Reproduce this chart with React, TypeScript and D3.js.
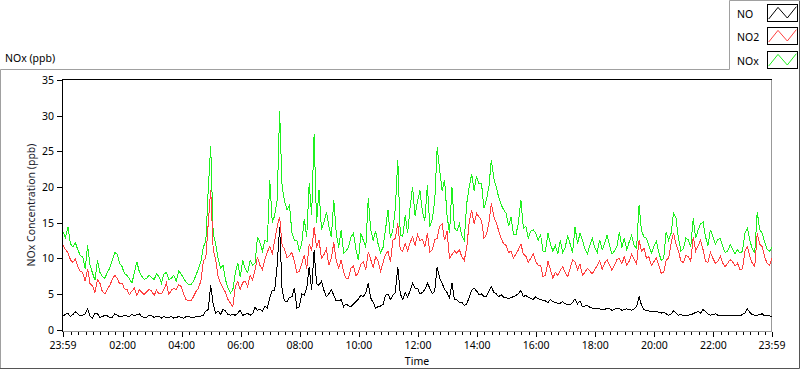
import React, { useEffect, useRef } from "react";
import * as d3 from "d3";

// Readings every 10 minutes from 23:59 (145 points), ppb
const noOnTen = [
  1.9, 2.3, 2.1, 2.2, 2.0, 2.9, 1.6, 2.2, 1.8, 1.9,
  1.7, 2.0, 1.8, 1.9, 2.2, 2.1, 1.8, 1.7, 1.9, 1.8,
  1.6, 1.7, 1.8, 1.7, 1.7, 1.8, 1.7, 1.8, 1.9, 2.6,
  6.2, 2.3, 2.1, 2.6, 2.0, 2.0, 2.7, 2.1, 2.0, 3.1,
  2.8, 3.3, 4.4, 5.5, 14.4, 4.0, 4.5, 5.8, 3.2, 4.8,
  8.8, 11.1, 6.2, 5.5, 5.0, 4.8, 4.0, 3.2, 3.3, 3.6,
  4.3, 4.6, 6.5, 3.8, 3.2, 3.5, 5.0, 4.8, 8.8, 4.2,
  4.5, 6.5, 5.8, 5.2, 6.5, 5.0, 8.8, 6.5, 5.2, 6.5,
  4.2, 3.8, 3.6, 5.5, 5.4, 5.0, 4.6, 6.0, 5.0, 4.9,
  4.5, 4.5, 4.8, 5.5, 4.8, 4.4, 4.6, 4.2, 4.0, 4.2,
  3.8, 3.7, 3.6, 3.5, 4.3, 4.0, 3.3, 3.1, 2.9, 2.9,
  2.8, 2.9, 2.8, 2.9, 2.8, 2.8, 2.9, 4.6, 2.8, 2.6,
  2.5, 2.4, 2.4, 2.0, 2.6, 2.0, 1.9, 2.0, 2.2, 2.5,
  2.8, 2.2, 2.1, 2.0, 1.9, 2.0, 1.9, 2.0, 2.1, 2.9,
  2.1, 2.0, 2.2, 1.9, 1.8,
];
// Readings 5 minutes after each of the above (144 points)
const noMid = [
  2.1, 1.8, 2.5, 1.9, 2.2, 1.9, 2.3, 1.7, 2.0, 1.7,
  2.2, 1.8, 2.0, 1.8, 1.9, 2.2, 1.7, 2.0, 1.7, 1.9,
  1.8, 1.7, 1.6, 1.8, 1.6, 1.8, 1.7, 1.8, 2.0, 2.8,
  3.6, 2.6, 2.8, 2.1, 2.1, 2.3, 2.0, 2.3, 2.2, 2.7,
  2.6, 3.0, 5.5, 9.0, 5.5, 3.9, 4.6, 3.0, 5.0, 5.8,
  5.5, 6.4, 6.8, 4.6, 5.6, 4.0, 4.2, 3.6, 3.2, 3.9,
  4.8, 5.2, 4.4, 3.0, 3.3, 4.8, 4.2, 5.2, 5.0, 5.2,
  5.5, 5.8, 5.0, 5.6, 5.8, 5.4, 7.2, 5.6, 4.4, 4.2,
  3.8, 3.4, 4.5, 5.8, 4.9, 4.6, 5.4, 5.2, 4.6, 4.5,
  4.3, 4.6, 5.0, 4.6, 4.5, 4.2, 4.3, 4.1, 3.8, 3.9,
  3.7, 3.9, 3.5, 3.8, 3.6, 3.2, 3.4, 3.0, 3.0, 2.8,
  3.0, 2.7, 3.0, 2.7, 2.9, 2.7, 3.2, 3.4, 2.6, 2.5,
  2.6, 2.3, 2.2, 2.2, 2.3, 2.1, 2.0, 2.1, 2.4, 2.3,
  2.5, 2.0, 2.2, 1.9, 2.0, 1.9, 2.0, 1.9, 2.3, 2.4,
  2.0, 2.1, 1.9, 1.9,
];

const no2OnTen = [
  11.8, 10.8, 9.4, 8.8, 8.0, 8.5, 6.1, 7.0, 5.3, 5.6,
  7.0, 7.2, 6.5, 5.6, 5.4, 4.8, 5.2, 5.3, 5.4, 5.5,
  5.0, 6.5, 5.5, 5.6, 6.0, 4.2, 4.0, 5.3, 6.8, 10.0,
  19.6, 9.8, 6.5, 5.2, 3.7, 6.0, 5.6, 6.8, 7.6, 8.3,
  9.0, 9.8, 11.6, 12.5, 15.8, 11.3, 10.4, 9.5, 8.2, 10.5,
  12.0, 14.4, 12.5, 10.5, 9.0, 12.2, 8.6, 8.0, 7.2, 8.9,
  8.0, 9.5, 10.9, 8.7, 9.6, 9.4, 11.0, 12.5, 14.9, 11.0,
  11.0, 13.0, 13.3, 12.6, 13.5, 11.2, 12.8, 14.8, 13.8, 10.5,
  10.7, 10.2, 11.5, 16.8, 16.3, 15.3, 13.3, 17.7, 15.0, 12.8,
  11.8, 11.0, 10.6, 12.0, 10.3, 10.0, 9.6, 9.0, 7.6, 8.4,
  8.0, 8.3, 8.0, 8.6, 9.5, 9.2, 8.0, 8.2, 8.4, 9.7,
  9.3, 9.0, 9.0, 10.0, 10.2, 9.6, 9.8, 12.5, 11.4, 10.2,
  9.5, 9.0, 8.0, 10.0, 13.5, 11.0, 9.4, 10.2, 13.0, 11.8,
  11.2, 9.4, 10.0, 9.6, 9.3, 9.3, 9.5, 9.3, 8.5, 11.6,
  9.3, 13.5, 11.6, 9.3, 10.0,
];
const no2Mid = [
  11.2, 9.8, 9.9, 8.2, 6.8, 6.4, 5.2, 6.5, 5.0, 6.2,
  7.6, 6.4, 5.7, 4.9, 5.8, 5.6, 4.9, 5.6, 4.8, 5.0,
  5.6, 4.9, 5.8, 6.3, 5.0, 4.0, 4.6, 5.8, 9.6, 14.9,
  11.3, 7.4, 5.8, 4.2, 3.2, 6.7, 6.6, 6.0, 7.0, 10.2,
  8.4, 10.9, 10.6, 14.4, 11.8, 10.0, 10.8, 8.0, 9.2, 8.5,
  11.0, 11.5, 10.0, 11.3, 10.0, 9.6, 9.8, 7.2, 8.6, 7.5,
  9.2, 8.4, 9.8, 10.2, 8.2, 10.5, 9.5, 12.8, 11.2, 12.0,
  12.2, 11.8, 12.5, 11.6, 10.9, 12.6, 14.5, 12.5, 10.0, 11.0,
  11.2, 9.7, 15.0, 14.8, 15.8, 12.8, 15.0, 15.8, 13.8, 12.0,
  10.8, 10.0, 11.2, 10.6, 9.4, 10.6, 9.0, 7.4, 9.6, 7.2,
  7.6, 8.8, 7.4, 9.8, 8.4, 7.6, 8.6, 7.8, 9.0, 8.4,
  9.8, 8.3, 9.8, 9.2, 9.0, 10.6, 9.2, 11.0, 10.0, 9.0,
  10.0, 7.9, 9.7, 12.1, 12.0, 9.6, 10.4, 9.6, 11.0, 12.5,
  9.6, 10.8, 9.3, 10.3, 8.8, 9.8, 8.9, 8.4, 11.0, 10.2,
  8.8, 12.0, 10.2, 9.0,
];

const noxOnTen = [
  13.7, 14.4, 11.6, 11.2, 10.2, 11.8, 7.9, 9.7, 7.4, 8.0,
  9.7, 10.6, 8.8, 7.6, 6.5, 9.5, 7.5, 7.2, 7.3, 7.8,
  6.5, 8.0, 7.2, 6.8, 7.8, 6.6, 6.3, 7.6, 9.5, 12.3,
  25.8, 12.0, 8.6, 7.0, 5.1, 8.0, 7.4, 8.5, 9.7, 9.3,
  12.2, 12.5, 21.0, 16.0, 30.6, 18.0, 17.5, 12.5, 11.0, 15.5,
  20.5, 27.4, 19.6, 15.0, 14.5, 18.2, 11.5, 10.7, 11.6, 13.5,
  9.7, 12.5, 18.4, 12.5, 12.0, 11.5, 16.8, 14.0, 23.8, 13.0,
  13.5, 20.0, 18.0, 16.5, 20.3, 15.5, 25.6, 19.5, 16.0, 20.0,
  13.8, 13.2, 17.7, 21.8, 21.5, 20.5, 18.2, 23.8, 20.0, 17.5,
  16.3, 15.8, 13.3, 18.2, 14.5, 13.8, 13.5, 13.3, 11.0, 12.0,
  11.8, 12.5, 11.5, 12.0, 14.4, 13.5, 11.3, 11.8, 11.5, 12.6,
  12.0, 11.8, 11.0, 13.7, 12.8, 12.3, 11.8, 17.5, 13.0, 11.8,
  11.6, 10.8, 10.0, 12.5, 16.3, 12.8, 11.3, 12.6, 15.6, 14.0,
  15.1, 11.8, 13.0, 12.6, 11.6, 11.0, 11.3, 11.2, 11.0, 14.2,
  11.3, 16.5, 13.5, 11.3, 11.5,
];
const noxMid = [
  12.9, 12.0, 12.2, 10.4, 8.5, 9.0, 6.9, 8.0, 7.2, 8.6,
  10.8, 9.3, 7.8, 7.1, 8.0, 8.1, 7.0, 7.6, 7.0, 7.4,
  7.8, 7.0, 7.6, 8.2, 7.2, 6.3, 6.8, 8.5, 11.6, 19.6,
  13.5, 10.0, 9.0, 5.8, 5.6, 9.3, 9.7, 8.0, 9.0, 13.0,
  11.0, 12.3, 15.0, 18.2, 20.0, 16.8, 13.5, 12.5, 12.1, 13.0,
  16.0, 15.0, 14.0, 16.5, 13.0, 13.5, 14.0, 11.0, 13.0, 11.2,
  13.5, 11.5, 14.0, 13.8, 10.8, 14.0, 12.8, 17.0, 13.3, 16.0,
  17.2, 16.0, 19.5, 15.3, 14.4, 18.0, 22.4, 21.0, 13.5, 14.3,
  14.8, 12.5, 20.0, 19.5, 20.4, 17.0, 20.0, 21.2, 18.5, 16.8,
  14.5, 13.3, 15.0, 14.2, 12.8, 14.0, 12.5, 11.0, 13.5, 11.0,
  10.6, 10.8, 13.2, 10.8, 12.0, 12.5, 10.6, 12.8, 10.8, 11.2,
  13.3, 10.6, 11.6, 11.5, 11.2, 13.2, 11.4, 13.8, 12.8, 10.7,
  12.4, 9.7, 13.7, 13.5, 15.6, 11.0, 12.8, 11.6, 12.8, 14.8,
  13.0, 14.0, 12.0, 12.8, 10.8, 11.9, 10.6, 10.7, 13.5, 12.5,
  10.8, 14.0, 12.3, 11.0,
];

const seriesNames = ["NO", "NO2", "NOx"];
const seriesColors = ["#000000", "#ff4040", "#1ff01f"];
const yTicks = [0, 5, 10, 15, 20, 25, 30, 35];
const edgeLabel = "23:59";
const stepMinutes = 5;

const W = 800;
const H = 369;
const FONT = "'Noto Sans', 'Open Sans', sans-serif";

// merge the on-the-ten readings with the readings taken in between
function merge(onTen: number[], mid: number[]) {
  const out: number[] = [];
  onTen.forEach((v, i) => {
    out.push(v);
    if (i < mid.length) out.push(mid[i]);
  });
  return out;
}

function NoxChart() {
  const ref = useRef<SVGSVGElement>(null);

  useEffect(() => {
    const svg = d3.select(ref.current);
    svg.selectAll("*").remove();

    const series = [merge(noOnTen, noMid), merge(no2OnTen, no2Mid), merge(noxOnTen, noxMid)];
    const start = new Date(2020, 0, 1, 23, 59);
    const end = d3.timeMinute.offset(start, 24 * 60);
    const times = series[0].map((_, i) => d3.timeMinute.offset(start, i * stepMinutes));

    const x = d3.scaleTime().domain([start, end]).range([63, 772]);
    const y = d3.scaleLinear().domain([0, 35]).range([329.5, 80]);

    // outer panel border (with legend box on top right)
    svg.append("path")
      .attr("d", "M0.5,368 V69.5 H729.5 V0.5 H799")
      .attr("fill", "none").attr("stroke", "#a0a0a0");
    svg.append("path")
      .attr("d", "M799.5,0.5 V368.5 H0")
      .attr("fill", "none").attr("stroke", "#555");

    svg.append("text")
      .attr("x", 5).attr("y", 62)
      .attr("font-family", FONT).attr("font-size", 10.5)
      .text("NOx (ppb)");

    // plot frame
    svg.append("rect")
      .attr("x", 63).attr("y", 80).attr("width", 709).attr("height", 251)
      .attr("fill", "#fff");
    svg.append("path")
      .attr("d", "M771.5,80 V331.5 H63")
      .attr("fill", "none").attr("stroke", "#999")
      .attr("shape-rendering", "crispEdges");
    svg.append("path")
      .attr("d", "M62.5,332 V79.5 H772")
      .attr("fill", "none").attr("stroke", "#000")
      .attr("shape-rendering", "crispEdges");

    // y axis
    const yg = svg.append("g").attr("font-family", FONT).attr("font-size", 10.5);
    yTicks.forEach((t) => {
      const py = Math.round(y(t)) + 0.5;
      yg.append("line").attr("x1", 57).attr("x2", 63).attr("y1", py).attr("y2", py)
        .attr("stroke", "#000").attr("shape-rendering", "crispEdges");
      yg.append("text").attr("x", 54).attr("y", py + 3.8)
        .attr("text-anchor", "end").text(String(t));
    });
    svg.append("text")
      .attr("transform", `translate(35,205) rotate(-90)`)
      .attr("text-anchor", "middle")
      .attr("font-family", FONT).attr("font-size", 10.5)
      .attr("fill", "#1a1a2a")
      .text("NOx Concentration (ppb)");

    // x axis ticks
    const xg = svg.append("g").attr("font-family", FONT).attr("font-size", 10.5);
    d3.timeMinute.every(15)!.range(start, end).forEach((t) => {
      const px = Math.round(x(t)) + 0.5;
      xg.append("line").attr("x1", px).attr("x2", px).attr("y1", 332).attr("y2", 334.5)
        .attr("stroke", "#000").attr("shape-rendering", "crispEdges");
    });
    const majors = d3.timeHour.every(2)!.range(start, end);
    [start, ...majors, end].forEach((t) => {
      const px = Math.round(x(t)) + 0.5;
      xg.append("line").attr("x1", px).attr("x2", px).attr("y1", 332).attr("y2", 336.5)
        .attr("stroke", "#000").attr("shape-rendering", "crispEdges");
    });
    const fmt = d3.timeFormat("%H:%M");
    const labelled = [
      { t: start, s: edgeLabel },
      ...majors.filter((t) => t.getHours() !== 0).map((t) => ({ t, s: fmt(t) })),
      { t: end, s: edgeLabel },
    ];
    labelled.forEach((d) => {
      xg.append("text").attr("x", x(d.t)).attr("y", 348.5)
        .attr("text-anchor", "middle").text(d.s);
    });
    svg.append("text")
      .attr("x", 417).attr("y", 365)
      .attr("text-anchor", "middle")
      .attr("font-family", FONT).attr("font-size", 10.5)
      .text("Time");

    // series (NOx under NO2 under NO)
    const line = d3.line<number>()
      .x((_, i) => x(times[i]))
      .y((d) => y(d));
    [2, 1, 0].forEach((k) => {
      svg.append("path")
        .attr("d", line(series[k]))
        .attr("fill", "none")
        .attr("stroke", seriesColors[k])
        .attr("stroke-width", 1)
        .attr("shape-rendering", "crispEdges");
    });

    // legend
    const lg = svg.append("g").attr("font-family", FONT).attr("font-size", 10.5);
    seriesNames.forEach((name, k) => {
      const by = Math.round(3.5 + k * 23.5);
      lg.append("text").attr("x", 737).attr("y", by + 14).text(name);
      lg.append("rect")
        .attr("x", 767.5).attr("y", by + 0.5)
        .attr("width", 30).attr("height", 17)
        .attr("fill", "#fff").attr("stroke", "#000");
      const zig: [number, number][] = [[1.7, 15], [11, 3.4], [20.3, 14], [29.3, 2.7]];
      lg.append("path")
        .attr("d", d3.line()(zig.map(([a, b]) => [767 + a, by + b])))
        .attr("fill", "none").attr("stroke", seriesColors[k]);
    });
  }, []);

  return <svg ref={ref} width={W} height={H} style={{ display: "block" }} />;
}

export default function App() {
  return (
    <div style={{ position: "absolute", left: 0, top: 0, background: "#fff" }}>
      <NoxChart />
    </div>
  );
}
